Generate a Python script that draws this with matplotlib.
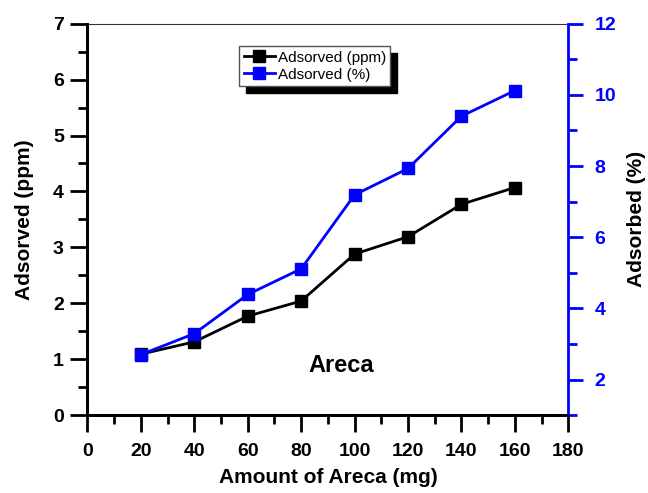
import numpy as np
import matplotlib.pyplot as plt
from matplotlib.ticker import MultipleLocator

# data
amount_mg = [20, 40, 60, 80, 100, 120, 140, 160]
adsorved_ppm = [1.09, 1.31, 1.77, 2.04, 2.88, 3.19, 3.77, 4.07]
adsorved_pct = [2.70, 3.29, 4.39, 5.11, 7.19, 7.93, 9.40, 10.12]

plt.rcParams['font.family'] = ['Liberation Sans', 'DejaVu Sans']
plt.rcParams['font.weight'] = 'bold'

fig = plt.figure(figsize=(6.48, 4.93), dpi=100)
ax = fig.add_axes([0.135, 0.158, 0.742, 0.794])
ax2 = ax.twinx()

l1, = ax.plot(amount_mg, adsorved_ppm, color='black', lw=2, marker='s', ms=9,
              label='Adsorved (ppm)')
l2, = ax2.plot(amount_mg, adsorved_pct, color='#0000ff', lw=2, marker='s', ms=9,
               label='Adsorved (%)')

ax.set_xlim(0, 180)
ax.set_ylim(0, 7)
ax2.set_ylim(1, 12)

ax.xaxis.set_major_locator(MultipleLocator(20))
ax.xaxis.set_minor_locator(MultipleLocator(10))
ax.yaxis.set_major_locator(MultipleLocator(1))
ax.yaxis.set_minor_locator(MultipleLocator(0.5))
ax2.yaxis.set_major_locator(MultipleLocator(2))
ax2.yaxis.set_minor_locator(MultipleLocator(1))

for a in (ax, ax2):
    for s in a.spines.values():
        s.set_linewidth(2)
# thin frame line on top
ax.spines['top'].set_linewidth(0.8)
ax.spines['top'].set_color('#333333')
ax2.spines['top'].set_visible(False)
ax2.spines['right'].set_color('#0000ff')
ax.spines['right'].set_visible(False)

ax.tick_params(which='major', direction='out', length=12, width=2, labelsize=14, pad=5)
ax.tick_params(which='minor', direction='out', length=6.5, width=2)
ax.tick_params(axis='x', which='major', pad=8)
ax.tick_params(top=False, which='both')
ax2.tick_params(which='major', direction='out', length=11, width=2, labelsize=14, pad=8,
                color='#0000ff', labelcolor='#0000ff')
ax2.tick_params(which='minor', direction='out', length=6.5, width=2, color='#0000ff')

ax.set_xlabel('Amount of Areca (mg)', fontsize=15, fontweight='bold', labelpad=6)
ax.set_ylabel('Adsorved (ppm)', fontsize=15, fontweight='bold', labelpad=14)
ax2.set_ylabel('Adsorbed (%)', fontsize=15, fontweight='bold', labelpad=8)

ax.text(95, 0.88, 'Areca', fontsize=17, fontweight='bold', ha='center', va='center')

leg = ax.legend(handles=[l1, l2], loc='upper left', bbox_to_anchor=(0.3, 0.962),
                prop={'size': 11, 'weight': 'normal'}, frameon=True, fancybox=False,
                edgecolor='#555555', shadow={'color': 'black', 'alpha': 1, 'ox': 5, 'oy': -5},
                markerscale=0.9, handlelength=2.0, handletextpad=0.2, borderpad=0.3,
                labelspacing=0.2)
leg.get_frame().set_linewidth(1)

fig.savefig('out.png', dpi=100)
